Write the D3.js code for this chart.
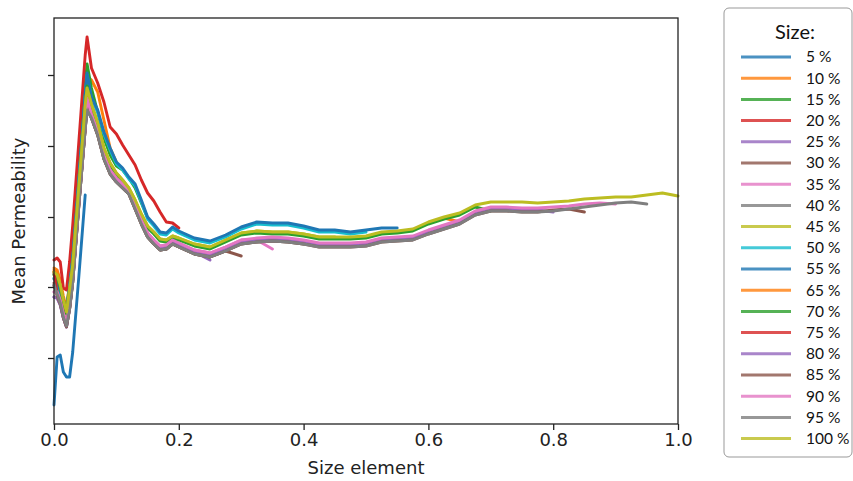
<!DOCTYPE html>
<html><head><meta charset="utf-8">
<script src="https://cdn.jsdelivr.net/npm/d3@7"></script>
<style>body{margin:0;background:#fff;} svg{display:block;}</style>
</head><body><svg id="chart" width="853" height="481"></svg>
<script>
// shared x grid (size element)
const sizeElement = [0,0.005,0.01,0.015,0.02,0.025,0.03,0.04,0.05,0.053,0.06,0.07,0.08,0.09,0.10,0.11,0.12,0.13,0.14,0.15,0.16,0.17,0.18,0.19,0.20,0.225,0.25,0.275,0.30,0.325,0.35,0.375,0.40,0.425,0.45,0.475,0.50,0.525,0.55,0.575,0.60,0.625,0.65,0.675,0.70,0.725,0.75,0.775,0.80,0.825,0.85,0.875,0.90,0.925,0.95,0.975,1.00];

const sizeLabels = ["5 %","10 %","15 %","20 %","25 %","30 %","35 %","40 %","45 %","50 %","55 %","65 %","70 %","75 %","80 %","85 %","90 %","95 %","100 %"];
const xTicks = [0,0.2,0.4,0.6,0.8,1.0];
const yTicks = [0.66,1.37,2.07,2.78,3.49]; // unlabeled in the original

const p05 = [0.19,0.67,0.69,0.52,0.47,0.47,0.72,1.49,2.29];
const p10 = [1.56,1.54,1.44,1.28,1.16,1.41,1.69,2.52,3.29,3.48,3.44,3.32,3.04,2.76,2.62];
const p15 = [1.49,1.46,1.37,1.24,1.15,1.39,1.69,2.54,3.39,3.60,3.36,3.12,2.86,2.69,2.58,2.54,2.46,2.36,2.21,2.06];
const p20 = [1.64,1.66,1.62,1.36,1.34,1.62,1.99,2.84,3.69,3.87,3.56,3.41,3.22,2.97,2.90,2.79,2.69,2.59,2.44,2.31,2.23,2.12,2.02,2.01,1.96];
const p25 = [1.27,1.26,1.19,1.06,0.97,1.16,1.44,2.22,2.97,3.21,3.08,2.91,2.67,2.52,2.44,2.38,2.32,2.17,2.02,1.89,1.82,1.76,1.77,1.82,1.79,1.72,1.64];
const p30 = [1.38,1.34,1.26,1.10,1.02,1.16,1.42,2.20,2.95,3.16,3.06,2.89,2.65,2.50,2.42,2.36,2.30,2.15,2.00,1.87,1.80,1.74,1.75,1.80,1.77,1.70,1.67,1.73,1.68];
const p35 = [1.32,1.32,1.24,1.10,1.01,1.19,1.46,2.24,2.99,3.24,3.10,2.93,2.69,2.54,2.46,2.40,2.34,2.19,2.04,1.91,1.84,1.78,1.79,1.84,1.81,1.74,1.71,1.77,1.84,1.84,1.75];
const p40 = [1.39,1.30,1.21,1.07,0.98,1.15,1.42,2.20,2.95,3.14,3.06,2.89,2.65,2.50,2.42,2.36,2.30,2.15,2.00,1.87,1.80,1.74,1.75,1.80,1.77,1.70,1.67,1.73,1.80,1.82,1.83,1.82,1.80];
const p45 = [1.52,1.49,1.39,1.24,1.12,1.35,1.59,2.39,3.19,3.41,3.20,3.01,2.76,2.61,2.51,2.44,2.36,2.24,2.10,1.98,1.92,1.85,1.84,1.88,1.86,1.80,1.77,1.84,1.91,1.93,1.92,1.92,1.90,1.87,1.87];
const p50 = [1.46,1.40,1.32,1.20,1.12,1.35,1.64,2.44,3.28,3.49,3.25,3.12,2.90,2.74,2.60,2.54,2.45,2.38,2.22,2.05,1.98,1.90,1.89,1.95,1.91,1.84,1.81,1.87,1.95,2.00,1.99,1.99,1.96,1.92,1.92,1.90,1.92];
const p55 = [1.45,1.42,1.34,1.22,1.14,1.37,1.66,2.46,3.30,3.51,3.27,3.14,2.92,2.76,2.62,2.56,2.47,2.40,2.24,2.07,2.00,1.92,1.91,1.97,1.93,1.86,1.83,1.89,1.97,2.02,2.01,2.01,1.98,1.94,1.94,1.92,1.94,1.96,1.96];
const p65 = [1.54,1.48,1.38,1.23,1.11,1.34,1.58,2.38,3.18,3.36,3.19,3.00,2.75,2.60,2.50,2.43,2.35,2.23,2.09,1.97,1.91,1.84,1.83,1.87,1.85,1.79,1.76,1.83,1.90,1.92,1.91,1.91,1.89,1.86,1.86,1.86,1.87,1.91,1.92,1.94,2.01,2.06,2.02];
const p70 = [1.50,1.47,1.37,1.22,1.10,1.33,1.57,2.37,3.17,3.38,3.18,2.99,2.74,2.59,2.49,2.42,2.34,2.22,2.08,1.96,1.90,1.83,1.82,1.86,1.84,1.78,1.75,1.82,1.89,1.91,1.90,1.90,1.88,1.85,1.85,1.85,1.86,1.90,1.91,1.93,2.00,2.05,2.09,2.17,2.13];
const p75 = [1.52,1.31,1.23,1.09,1.00,1.18,1.45,2.23,2.98,3.29,3.09,2.92,2.68,2.53,2.45,2.39,2.33,2.18,2.03,1.90,1.83,1.77,1.78,1.83,1.80,1.73,1.70,1.76,1.83,1.85,1.86,1.85,1.83,1.80,1.80,1.80,1.81,1.85,1.86,1.87,1.93,1.98,2.03,2.12,2.16,2.16,2.14];
const p80 = [1.27,1.26,1.19,1.06,0.97,1.16,1.44,2.22,2.97,3.24,3.08,2.91,2.67,2.52,2.44,2.38,2.32,2.17,2.02,1.89,1.82,1.76,1.77,1.82,1.79,1.72,1.69,1.75,1.82,1.84,1.85,1.84,1.82,1.79,1.79,1.79,1.80,1.84,1.85,1.86,1.92,1.97,2.02,2.11,2.15,2.15,2.14,2.14,2.12];
const p85 = [1.41,1.28,1.20,1.06,0.97,1.15,1.42,2.20,2.95,3.18,3.06,2.89,2.65,2.50,2.42,2.36,2.30,2.15,2.00,1.87,1.80,1.74,1.75,1.80,1.77,1.70,1.67,1.73,1.80,1.82,1.83,1.82,1.80,1.77,1.77,1.77,1.78,1.82,1.83,1.84,1.90,1.95,2.00,2.09,2.13,2.13,2.12,2.12,2.14,2.15,2.12];
const p90 = [1.32,1.32,1.24,1.10,1.01,1.19,1.46,2.24,2.99,3.26,3.10,2.93,2.69,2.54,2.46,2.40,2.34,2.19,2.04,1.91,1.84,1.78,1.79,1.84,1.81,1.74,1.71,1.77,1.84,1.86,1.87,1.86,1.84,1.81,1.81,1.81,1.82,1.86,1.87,1.88,1.94,1.99,2.04,2.13,2.17,2.17,2.16,2.16,2.17,2.18,2.20,2.21,2.20];
const p95 = [1.39,1.30,1.21,1.07,0.98,1.15,1.42,2.20,2.95,3.14,3.06,2.89,2.65,2.50,2.42,2.36,2.30,2.15,2.00,1.87,1.80,1.74,1.75,1.80,1.77,1.70,1.67,1.73,1.80,1.82,1.83,1.82,1.80,1.77,1.77,1.77,1.78,1.82,1.83,1.84,1.90,1.95,2.00,2.09,2.13,2.13,2.12,2.12,2.13,2.15,2.17,2.19,2.21,2.22,2.20];
const p100 = [1.52,1.49,1.39,1.24,1.12,1.35,1.59,2.39,3.19,3.36,3.20,3.01,2.76,2.61,2.51,2.44,2.36,2.24,2.10,1.98,1.92,1.85,1.84,1.88,1.86,1.80,1.77,1.84,1.91,1.93,1.92,1.92,1.90,1.87,1.87,1.87,1.88,1.92,1.93,1.95,2.02,2.07,2.11,2.19,2.22,2.22,2.22,2.21,2.22,2.23,2.25,2.26,2.27,2.27,2.29,2.31,2.28];

const seriesValues = [p05,p10,p15,p20,p25,p30,p35,p40,p45,p50,p55,p65,p70,p75,p80,p85,p90,p95,p100];
const palette = ["#1f77b4","#ff7f0e","#2ca02c","#d62728","#9467bd","#8c564b","#e377c2","#7f7f7f","#bcbd22","#17becf"];

const svg = d3.select("#chart");
const M = {left:54, right:678, top:18, bottom:424};
const x = d3.scaleLinear().domain([0,1]).range([M.left, M.right]);
const y = d3.scaleLinear().domain([0,4.06]).range([M.bottom, M.top]);
const color = i => palette[i % 10];

const line = d3.line().x(d => x(d[0])).y(d => y(d[1]));

const plot = svg.append("g");
seriesValues.forEach((vals, i) => {
  const pts = vals.map((v, k) => [sizeElement[k], v]);
  plot.append("path").datum(pts)
    .attr("d", line)
    .attr("fill","none")
    .attr("stroke", color(i))
    .attr("stroke-width", 2.9)
    .attr("stroke-linejoin","round")
    .attr("stroke-linecap","round");
});

// frame
svg.append("rect").attr("x",M.left).attr("y",M.top)
  .attr("width",M.right-M.left).attr("height",M.bottom-M.top)
  .attr("fill","none").attr("stroke","#222").attr("stroke-width",1.3);

const xAxis = svg.append("g").attr("transform",`translate(0,${M.bottom})`)
  .call(d3.axisBottom(x).tickValues(xTicks).tickFormat(d3.format(".1f")).tickSize(6).tickSizeOuter(0));
const yAxis = svg.append("g").attr("transform",`translate(${M.left},0)`)
  .call(d3.axisLeft(y).tickValues(yTicks).tickFormat("").tickSize(6).tickSizeOuter(0));
[xAxis,yAxis].forEach(g => {
  g.select(".domain").remove();
  g.selectAll("line").attr("stroke","#222").attr("stroke-width",1.3);
  g.selectAll("text").attr("fill","#222").style("font-family","DejaVu Sans").style("font-size","18px");
});

svg.append("text").attr("x",(M.left+M.right)/2).attr("y",474)
  .attr("text-anchor","middle").style("font-family","DejaVu Sans").style("font-size","18px").attr("fill","#222")
  .text("Size element");
svg.append("text").attr("transform","translate(25,221) rotate(-90)")
  .attr("text-anchor","middle").style("font-family","DejaVu Sans").style("font-size","18px").attr("fill","#222")
  .text("Mean Permeability");

// legend
const lg = svg.append("g");
lg.append("rect").attr("x",724).attr("y",8).attr("width",128).attr("height",449).attr("rx",5)
  .attr("fill","#fff").attr("stroke","#999").attr("stroke-width",1);
lg.append("text").attr("x",795).attr("y",39).attr("text-anchor","middle")
  .style("font-family","Lato").style("font-size","20px").attr("fill","#111").text("Size:");
sizeLabels.forEach((lab, i) => {
  const yy = 57 + i * 21.2;
  lg.append("line").attr("x1",741).attr("x2",791).attr("y1",yy).attr("y2",yy)
    .attr("stroke",color(i)).attr("stroke-width",3).attr("opacity",0.8);
  lg.append("text").attr("x",806).attr("y",yy).attr("dy","0.35em")
    .style("font-family","Lato").style("font-size","15.5px").attr("fill","#111").text(lab);
});
</script></body></html>
